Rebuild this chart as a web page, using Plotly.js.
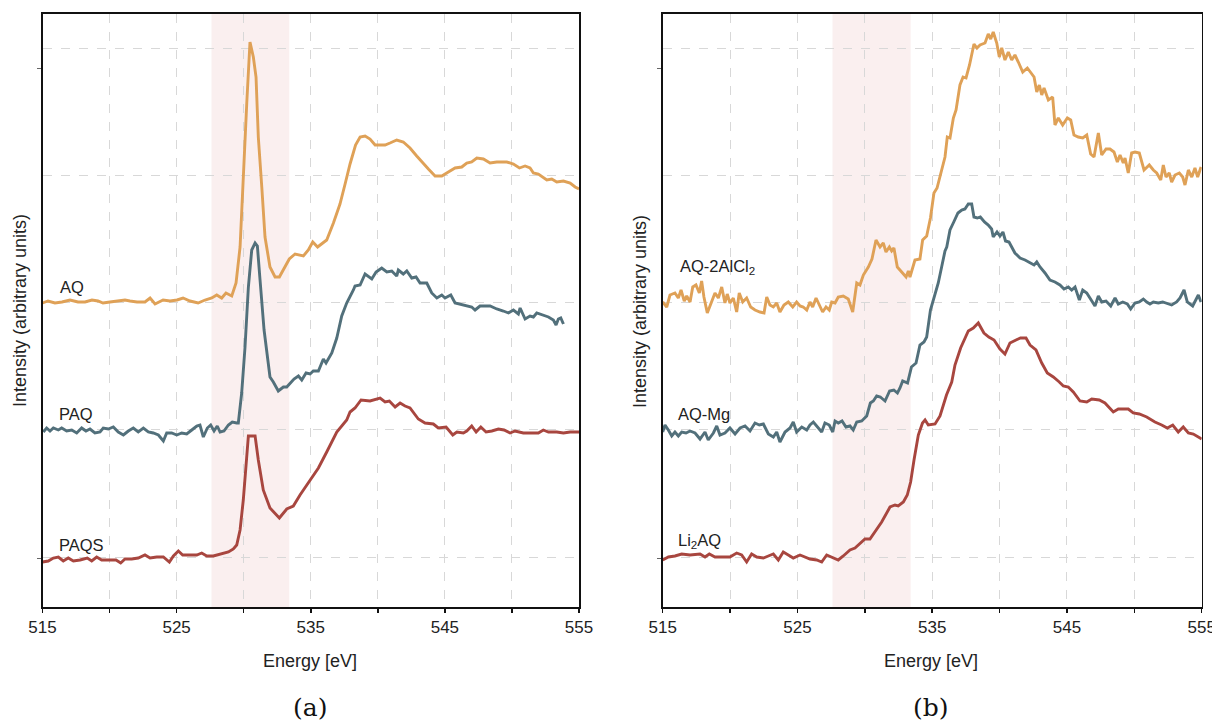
<!DOCTYPE html>
<html>
<head>
<meta charset="utf-8">
<script src="https://cdn.plot.ly/plotly-3.0.1.min.js"></script>
<style>html,body{margin:0;padding:0;background:#fff;}#chart{width:1212px;height:721px;}</style>
</head>
<body>
<div id="chart"></div>
<script>
// Energy [eV], intensity (arbitrary units) pairs
const aqData = [[515.0,254],[515.41,256],[515.93,254],[516.45,255],[517.05,257],[517.65,255],[518.17,255],[518.69,257],[519.14,256],[519.51,254],[520.03,255],[520.63,256],[521.15,257],[521.52,256],[522.05,255],[522.64,255],[523.02,259],[523.39,253],[523.99,257],[524.51,256],[525.03,257],[525.48,259],[526.0,256],[526.6,254],[527.12,257],[527.62,259],[527.99,262],[528.36,259],[528.68,264],[529.11,261],[529.43,274],[529.73,310],[529.97,387],[530.23,454],[530.47,515],[530.72,500],[530.92,480],[531.09,420],[531.35,370],[531.59,320],[531.96,290],[532.34,280],[532.66,280],[533.08,290],[533.4,298],[533.83,303],[534.45,301],[534.82,307],[535.15,315],[535.51,310],[536.19,317],[536.69,334],[537.18,353],[537.56,373],[537.93,393],[538.34,412],[538.68,420],[539.05,421],[539.42,418],[539.8,412],[540.54,412],[540.91,414],[541.41,417],[541.9,415],[542.4,409],[542.9,401],[543.28,395],[543.77,388],[544.27,381],[544.77,381],[545.26,385],[545.76,389],[546.26,390],[546.63,394],[547.0,395],[547.38,399],[547.87,398],[548.37,394],[548.87,395],[549.62,395],[550.11,393],[550.56,389],[550.98,391],[551.35,389],[551.6,384],[551.97,383],[552.6,377],[552.97,378],[553.34,375],[553.84,376],[554.34,374],[554.71,370],[555.0,368]];
const paqData = [[515.06,125],[515.31,129],[515.56,126],[515.81,129],[516.18,127],[516.43,129],[516.8,126],[517.18,127],[517.55,124],[517.92,129],[518.24,126],[518.54,128],[518.91,124],[519.29,125],[519.53,129],[519.91,128],[520.28,130],[520.65,125],[521.03,122],[521.4,126],[521.77,129],[522.14,125],[522.52,129],[522.89,125],[523.26,124],[523.64,122],[524.01,116],[524.26,124],[524.63,124],[525.01,122],[525.38,124],[525.75,123],[526.13,127],[526.5,131],[526.74,132],[526.99,120],[527.29,129],[527.54,132],[527.79,126],[528.03,131],[528.24,125],[528.53,126],[528.86,132],[529.15,135],[529.48,134],[529.6,134],[529.85,164],[530.1,210],[530.35,270],[530.6,307],[530.85,314],[531.02,311],[531.22,277],[531.52,227],[531.96,180],[532.21,175],[532.58,166],[532.96,170],[533.21,170],[533.46,174],[533.75,178],[534.08,181],[534.33,177],[534.65,184],[534.95,183],[535.19,186],[535.57,186],[535.94,198],[536.14,194],[536.57,204],[536.94,219],[537.31,241],[537.68,254],[538.18,267],[538.3,271],[538.68,272],[539.05,283],[539.55,278],[539.87,285],[540.29,289],[540.67,285],[541.04,286],[541.41,281],[541.53,287],[541.9,283],[542.16,286],[542.53,279],[542.85,280],[543.15,274],[543.65,274],[544.02,264],[544.4,259],[544.77,262],[545.01,259],[545.44,262],[545.76,254],[546.13,253],[546.63,251],[547.0,250],[547.25,247],[547.62,251],[548.37,251],[548.87,248],[549.36,246],[549.74,244],[550.11,247],[550.48,243],[550.61,249],[550.98,238],[551.35,241],[551.6,240],[551.85,244],[552.22,242],[552.72,240],[553.09,237],[553.29,232],[553.46,238],[553.64,239],[553.84,233]];
const paqsData = [[515.0,-5],[515.43,-4],[515.81,-1],[516.18,0],[516.55,-4],[516.92,-1],[517.3,-4],[517.8,-3],[518.34,-1],[518.67,-4],[519.04,0],[519.41,-3],[520.03,-3],[520.48,-3],[520.83,-6],[521.15,-2],[521.65,-2],[522.14,-1],[522.64,2],[523.02,-1],[523.52,0],[524.01,0],[524.46,-5],[524.76,1],[525.13,6],[525.45,2],[526.0,2],[526.5,2],[526.87,4],[527.25,1],[527.74,1],[528.24,3],[528.86,5],[529.23,8],[529.48,12],[529.73,27],[529.97,57],[530.35,121],[530.85,121],[531.09,97],[531.46,67],[531.96,49],[532.66,39],[533.21,48],[533.7,51],[534.2,62],[534.95,77],[535.57,89],[536.19,105],[536.94,125],[537.68,137],[537.93,145],[538.3,149],[538.75,157],[539.42,156],[540.17,159],[540.54,155],[540.86,156],[541.29,150],[541.66,154],[542.03,151],[542.4,149],[543.02,138],[543.52,134],[544.14,133],[544.51,129],[545.09,130],[545.59,122],[545.89,125],[546.38,124],[546.63,126],[547.0,131],[547.33,125],[547.68,130],[548.07,125],[548.5,126],[548.99,128],[549.41,127],[549.86,124],[550.23,126],[550.85,124],[551.35,124],[551.97,124],[552.34,127],[552.72,125],[553.34,125],[553.84,124],[554.34,125],[555.0,125]];
const alclData = [[515.0,255],[515.3,250],[515.54,262],[515.91,264],[516.16,259],[516.36,267],[516.6,256],[516.78,261],[517.03,255],[517.23,270],[517.47,272],[517.72,264],[517.89,276],[518.06,260],[518.31,244],[518.56,252],[518.88,264],[519.13,259],[519.38,270],[519.62,254],[519.79,263],[519.99,254],[520.24,259],[520.49,245],[520.68,264],[520.94,255],[521.23,259],[521.53,250],[521.85,247],[522.22,245],[522.52,244],[522.72,260],[522.96,252],[523.21,250],[523.46,254],[523.7,245],[524.0,252],[524.32,255],[524.65,250],[524.94,255],[525.19,251],[525.43,250],[525.69,247],[525.93,255],[526.13,250],[526.38,259],[526.62,252],[526.87,245],[527.12,250],[527.36,247],[527.54,255],[527.79,254],[528.03,260],[528.4,261],[528.77,258],[529.1,245],[529.4,274],[529.64,272],[529.89,282],[530.26,290],[530.53,298],[530.83,317],[531.13,310],[531.37,314],[531.57,305],[531.82,310],[531.99,306],[532.16,309],[532.41,290],[532.81,284],[533.06,280],[533.23,286],[533.35,280],[533.72,297],[534.09,298],[534.29,317],[534.59,321],[534.87,339],[535.13,364],[535.36,369],[535.58,380],[535.8,390],[535.95,400],[536.12,420],[536.32,419],[536.57,439],[536.77,447],[537.06,472],[537.29,480],[537.51,479],[537.77,492],[538.1,513],[538.32,509],[538.55,512],[538.92,514],[539.16,523],[539.34,518],[539.53,525],[539.79,514],[539.98,500],[540.16,509],[540.4,497],[540.65,505],[540.9,497],[541.14,502],[541.39,495],[541.72,485],[542.06,489],[542.31,484],[542.56,480],[542.76,465],[542.95,472],[543.13,462],[543.3,469],[543.62,457],[543.94,460],[544.11,432],[544.36,439],[544.68,432],[545.03,439],[545.28,437],[545.52,422],[545.84,420],[546.17,419],[546.47,422],[546.76,403],[547.01,400],[547.33,424],[547.58,402],[547.9,408],[548.19,408],[548.49,405],[548.74,395],[548.94,402],[549.18,394],[549.31,399],[549.55,384],[549.8,404],[550.05,405],[550.37,404],[550.72,387],[551.11,392],[551.41,387],[551.66,384],[551.96,377],[552.15,392],[552.35,380],[552.59,384],[552.77,375],[553.02,382],[553.34,384],[553.59,380],[553.76,372],[554.01,387],[554.26,380],[554.5,389],[554.7,380],[554.95,390]];
const mgData = [[515.0,125],[515.17,132],[515.42,127],[515.67,121],[515.91,125],[516.16,121],[516.41,125],[516.73,124],[517.03,126],[517.4,124],[517.77,118],[518.14,125],[518.38,117],[518.76,124],[519.01,131],[519.25,122],[519.62,124],[519.99,129],[520.37,123],[520.74,129],[521.11,131],[521.48,126],[521.85,134],[522.17,132],[522.47,133],[522.84,123],[523.21,120],[523.46,125],[523.7,115],[524.08,125],[524.45,129],[524.69,135],[524.94,125],[525.32,130],[525.69,127],[525.93,132],[526.18,135],[526.55,129],[526.8,125],[527.04,134],[527.36,132],[527.62,125],[527.79,136],[528.03,134],[528.31,136],[528.6,130],[528.9,131],[529.14,127],[529.4,135],[529.77,136],[530.14,141],[530.41,154],[530.63,156],[530.88,161],[531.15,160],[531.5,156],[531.84,166],[532.15,167],[532.42,164],[532.61,169],[532.81,176],[533.17,174],[533.46,190],[533.8,194],[534.09,212],[534.39,215],[534.59,220],[534.87,247],[535.13,258],[535.45,274],[535.7,290],[535.95,306],[536.08,310],[536.32,327],[536.6,335],[536.91,344],[537.19,347],[537.43,348],[537.68,353],[537.93,353],[538.1,340],[538.35,339],[538.57,340],[538.88,335],[539.16,332],[539.41,328],[539.53,320],[539.81,325],[540.03,321],[540.25,325],[540.44,316],[540.7,315],[541.14,304],[541.52,299],[541.89,297],[542.26,294],[542.56,292],[542.76,295],[543.0,290],[543.37,284],[543.74,277],[544.11,275],[544.48,272],[544.78,268],[545.1,270],[545.35,267],[545.6,270],[545.92,257],[546.17,267],[546.47,264],[546.76,258],[547.08,251],[547.33,261],[547.58,255],[547.9,256],[548.25,251],[548.57,259],[548.81,253],[549.14,255],[549.48,253],[549.73,248],[550.05,254],[550.37,255],[550.67,258],[550.92,255],[551.16,253],[551.41,255],[551.78,254],[552.11,255],[552.4,254],[552.77,252],[553.14,255],[553.39,259],[553.69,267],[553.93,255],[554.33,251],[554.58,258],[554.75,262],[554.95,255]];
const li2Data = [[515.0,-3],[515.42,0],[515.91,1],[516.41,3],[517.03,2],[517.77,3],[518.14,0],[518.46,3],[518.88,0],[519.5,0],[519.99,0],[520.49,4],[520.86,2],[521.23,-5],[521.6,3],[521.98,0],[522.47,-1],[522.84,1],[523.21,3],[523.58,-3],[523.95,5],[524.32,2],[524.69,-1],[525.19,2],[525.56,0],[525.93,-2],[526.43,-3],[526.8,-5],[527.17,2],[527.54,0],[528.03,-3],[528.4,1],[528.9,7],[529.27,9],[529.64,14],[530.01,18],[530.38,18],[530.75,25],[531.25,35],[531.87,50],[532.24,52],[532.48,51],[532.86,55],[533.15,62],[533.4,75],[533.65,97],[533.97,122],[534.28,134],[534.47,137],[534.71,132],[535.21,133],[535.58,141],[536.06,162],[536.45,175],[536.69,192],[537.11,209],[537.68,226],[538.05,229],[538.42,234],[538.84,224],[539.2,220],[539.59,217],[540.03,208],[540.4,203],[540.77,214],[541.22,217],[541.55,219],[541.96,219],[542.26,212],[542.7,207],[543.13,194],[543.54,184],[543.99,180],[544.43,175],[544.73,171],[545.1,170],[545.47,165],[545.97,156],[546.47,155],[546.84,158],[547.4,157],[547.82,154],[548.44,145],[548.81,148],[549.55,148],[549.92,144],[550.37,143],[550.92,140],[551.53,135],[552.03,132],[552.45,129],[552.85,132],[553.26,125],[553.63,130],[554.01,124],[554.38,123],[554.75,120],[555.0,118]];

const xLabelTicks = [515,525,535,545,555];
const xMinorTicks = [520,530,540,550];
const gridVals = [0,128,255,382,509];
const yTickMarks = [-1,489];
const shadeRange = [527.6,533.4];

const COLORS = {orange:'#DFA157', slate:'#52707B', red:'#A8463F'};
const FONT = 'Liberation Sans, Arial, Helvetica, sans-serif';

function tr(d, color, xa, ya){
  return {x:d.map(p=>p[0]), y:d.map(p=>p[1]), xaxis:xa, yaxis:ya, type:'scatter', mode:'lines',
    line:{color:color, width:2.9}, hoverinfo:'skip', showlegend:false};
}
const traces = [
  tr(aqData, COLORS.orange,'x','y'), tr(paqData, COLORS.slate,'x','y'), tr(paqsData, COLORS.red,'x','y'),
  tr(alclData, COLORS.orange,'x2','y2'), tr(mgData, COLORS.slate,'x2','y2'), tr(li2Data, COLORS.red,'x2','y2')
];

const W=1212, H=721;
const yDom = [1-607/H, 1-14/H];
function xax(dom, anchor){
  return {domain:dom, anchor:anchor, range:[515,555], tickmode:'array', tickvals:xLabelTicks,
    ticks:'outside', ticklen:4, tickwidth:1.5, tickcolor:'#111', showline:true, linecolor:'#111', linewidth:1.6,
    mirror:true, showgrid:true, gridcolor:'#d8d8d8', gridwidth:1, griddash:'dash', zeroline:false,
    minor:{tickmode:'array', tickvals:xMinorTicks, ticks:'outside', ticklen:4, tickwidth:1.5, tickcolor:'#111',
      showgrid:true, gridcolor:'#d8d8d8', gridwidth:1, griddash:'dash'},
    ticklabeloverflow:'allow', tickfont:{family:FONT, size:17, color:'#222'}, fixedrange:true};
}
function yax(anchor){
  return {domain:yDom, anchor:anchor, range:[-50,543], tickmode:'array', tickvals:yTickMarks, ticks:'outside',
    ticklen:4, tickwidth:1, tickcolor:'#666', showticklabels:false, showgrid:false, zeroline:false,
    showline:true, linecolor:'#111', linewidth:1.6, mirror:true, fixedrange:true,
    minor:{tickmode:'array', tickvals:gridVals, showgrid:true, gridcolor:'#d8d8d8', gridwidth:1, griddash:'dash', ticks:''}};
}
function lab(text, x, y, xref, yref){
  return {text:text, x:x, y:y, xref:xref, yref:yref, xanchor:'left', yanchor:'middle', showarrow:false,
    font:{family:FONT, size:16.5, color:'#222'}};
}
function pa(text, xpx, ypx, opts){
  return Object.assign({text:text, x:xpx/W, y:1-ypx/H, xref:'paper', yref:'paper', showarrow:false,
    xanchor:'center', yanchor:'middle', font:{family:FONT, size:18, color:'#222'}}, opts||{});
}
const SERIF = {family:'DejaVu Serif, Liberation Serif, serif', size:25, color:'#111'};
const layout = {
  width:W, height:H, margin:{l:0,r:0,t:0,b:0}, paper_bgcolor:'#fff', plot_bgcolor:'rgba(0,0,0,0)',
  xaxis: xax([42.5/W, 579/W], 'y'), yaxis: yax('x'),
  xaxis2: xax([662.7/W, 1201.7/W], 'y2'), yaxis2: yax('x2'),
  shapes:[
    {type:'rect', xref:'x', yref:'y domain', x0:shadeRange[0], x1:shadeRange[1], y0:0, y1:1, fillcolor:'#FAEFEF', line:{width:0}, layer:'below'},
    {type:'rect', xref:'x2', yref:'y2 domain', x0:shadeRange[0], x1:shadeRange[1], y0:0, y1:1, fillcolor:'#FAEFEF', line:{width:0}, layer:'below'}
  ],
  annotations:[
    lab('AQ', 516.15, 270, 'x','y'), lab('PAQ', 516.1, 143, 'x','y'), lab('PAQS', 516.05, 12, 'x','y'),
    lab('AQ-2AlCl<sub>2</sub>', 516.15, 290, 'x2','y2'), lab('AQ-Mg', 516.0, 143, 'x2','y2'), lab('Li<sub>2</sub>AQ', 516.0, 16, 'x2','y2'),
    pa('Intensity (arbitrary units)', 20, 311, {textangle:-90}),
    pa('Intensity (arbitrary units)', 640, 311, {textangle:-90}),
    pa('Energy [eV]', 310, 661), pa('Energy [eV]', 931, 661),
    pa('(a)', 310, 707, {font:SERIF}),
    pa('(b)', 931, 707, {font:SERIF})
  ]
};
Plotly.newPlot('chart', traces, layout, {displayModeBar:false, staticPlot:true});
</script>
</body>
</html>
